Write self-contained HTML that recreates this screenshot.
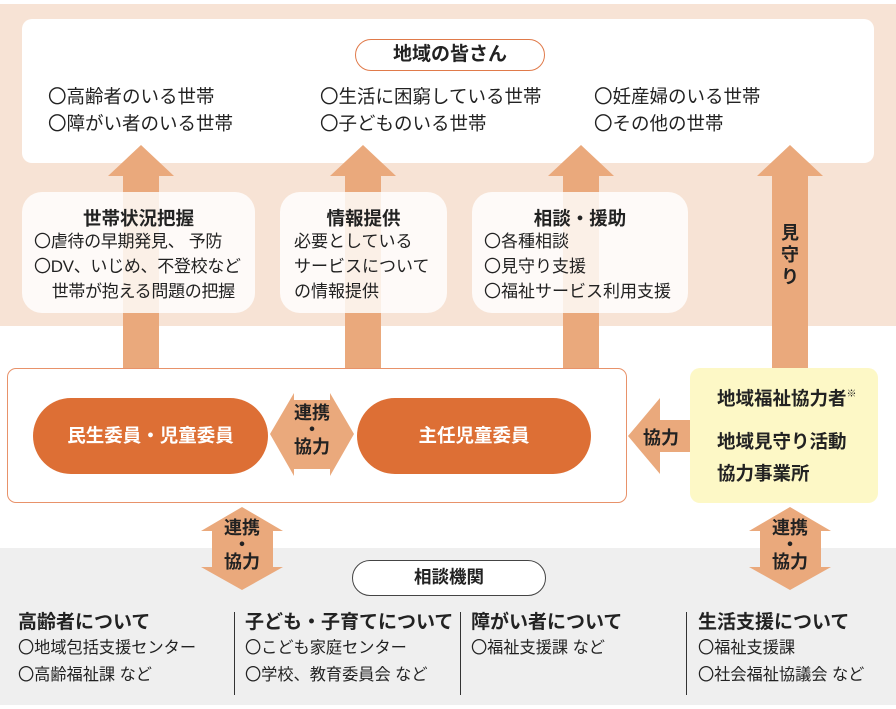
<!DOCTYPE html>
<html><head><meta charset="utf-8"><style>
*{margin:0;padding:0;box-sizing:border-box}
body{width:896px;height:709px;position:relative;background:#fff;font-family:"Liberation Sans","Noto Sans CJK JP",sans-serif;color:#222;overflow:hidden}
.a{position:absolute;white-space:nowrap}
.b{font-weight:bold}
</style></head><body>
<div class="a" style="left:0;top:4px;width:896px;height:322px;background:#f7e3d5"></div>
<div class="a" style="left:22px;top:19px;width:852px;height:144px;background:#fff;border-radius:10px"></div>
<div class="a" style="left:0;top:548px;width:896px;height:157px;background:#efefef"></div>
<svg class="a" style="left:0;top:0" width="896" height="709">
<g fill="#eaa97c">
<polygon points="141,145 174,176 159,176 159,368 123,368 123,176 108,176"/>
<polygon points="363,145 396,176 381,176 381,368 345,368 345,176 330,176"/>
<polygon points="581,145 614,176 599,176 599,368 563,368 563,176 548,176"/>
<polygon points="790,145 823,176 808,176 808,368 772,368 772,176 757,176"/>
<polygon points="628,436 660,398 660,420 690,420 690,452 660,452 660,474"/>
<polygon points="270,434 294,393 294,400 330,400 330,393 354,434 330,476 330,469 294,469 294,476"/>
<polygon points="242,507 283,531 273,531 273,567 283,567 242,590 201,567 212,567 212,531 201,531"/>
<polygon points="790,507 831,531 821,531 821,567 831,567 790,590 749,567 760,567 760,531 749,531"/>
</g>
</svg>
<div class="a" style="left:355px;top:39px;width:190px;height:32px;border:1.5px solid #e07a4a;border-radius:16px;background:#fff;text-align:center;font-size:19px;font-weight:bold;line-height:29px">地域の皆さん</div>
<div class="a" style="left:48px;top:83px;font-size:18.5px;line-height:27px">〇高齢者のいる世帯<br>〇障がい者のいる世帯</div>
<div class="a" style="left:320px;top:83px;font-size:18.5px;line-height:27px">〇生活に困窮している世帯<br>〇子どものいる世帯</div>
<div class="a" style="left:594px;top:83px;font-size:18.5px;line-height:27px">〇妊産婦のいる世帯<br>〇その他の世帯</div>

<div class="a" style="left:22px;top:192px;width:233px;height:121px;background:rgba(255,255,255,0.82);border-radius:20px"></div>
<div class="a" style="left:280px;top:192px;width:167px;height:121px;background:rgba(255,255,255,0.82);border-radius:20px"></div>
<div class="a" style="left:472px;top:192px;width:216px;height:121px;background:rgba(255,255,255,0.82);border-radius:20px"></div>
<div class="a b" style="left:22px;top:205px;width:233px;text-align:center;font-size:18.5px">世帯状況把握</div>
<div class="a" style="left:34px;top:229px;font-size:17px;line-height:25px;letter-spacing:-0.3px">〇虐待の早期発見、 予防<br>〇DV、いじめ、不登校など<br>&nbsp;&nbsp;&nbsp;&nbsp;世帯が抱える問題の把握</div>
<div class="a b" style="left:280px;top:205px;width:167px;text-align:center;font-size:18.5px">情報提供</div>
<div class="a" style="left:294px;top:229px;font-size:17px;line-height:25px">必要としている<br>サービスについて<br>の情報提供</div>
<div class="a b" style="left:472px;top:205px;width:216px;text-align:center;font-size:18.5px">相談・援助</div>
<div class="a" style="left:484px;top:229px;font-size:17px;line-height:25px">〇各種相談<br>〇見守り支援<br>〇福祉サービス利用支援</div>
<div class="a b" style="left:779px;top:222px;width:22px;font-size:18px;line-height:22px;white-space:normal;text-align:center">見守り</div>

<div class="a" style="left:7px;top:368px;width:620px;height:135px;border:1px solid #e8926a;border-radius:9px"></div>
<div class="a b" style="left:33px;top:398px;width:235px;height:76px;background:#dd6f35;border-radius:38px;color:#fff;text-align:center;line-height:76px;font-size:18.5px">民生委員・児童委員</div>
<div class="a b" style="left:357px;top:398px;width:234px;height:76px;background:#dd6f35;border-radius:38px;color:#fff;text-align:center;line-height:76px;font-size:18.5px">主任児童委員</div>
<div class="a b" style="left:284px;top:405px;width:56px;text-align:center;font-size:18px;line-height:17px">連携<br>・<br>協力</div>
<div class="a b" style="left:643px;top:424px;font-size:18px">協力</div>
<div class="a" style="left:690px;top:368px;width:188px;height:135px;background:#fdf8c6;border-radius:10px"></div>
<div class="a b" style="left:717px;top:385px;font-size:18.5px">地域福祉協力者<sup style="font-size:10px;vertical-align:top">※</sup></div>
<div class="a b" style="left:717px;top:426px;font-size:18.5px;line-height:32px">地域見守り活動<br>協力事業所</div>
<div class="a b" style="left:214px;top:520px;width:56px;text-align:center;font-size:18px;line-height:17px">連携<br>・<br>協力</div>
<div class="a b" style="left:762px;top:520px;width:56px;text-align:center;font-size:18px;line-height:17px">連携<br>・<br>協力</div>

<div class="a" style="left:352px;top:560px;width:194px;height:36px;border:1.5px solid #444;border-radius:18px;background:#fff;text-align:center;line-height:33px;font-size:17.5px;font-weight:bold">相談機関</div>
<div class="a" style="left:234px;top:612px;width:1px;height:83px;background:#333"></div>
<div class="a" style="left:460px;top:612px;width:1px;height:83px;background:#333"></div>
<div class="a" style="left:686px;top:612px;width:1px;height:83px;background:#333"></div>
<div class="a b" style="left:18px;top:607px;font-size:19px">高齢者について</div>
<div class="a" style="left:18px;top:635px;font-size:16.2px;line-height:27px">〇地域包括支援センター<br>〇高齢福祉課 など</div>
<div class="a b" style="left:245px;top:607px;font-size:19px">子ども・子育てについて</div>
<div class="a" style="left:245px;top:635px;font-size:16.2px;line-height:27px">〇こども家庭センター<br>〇学校、教育委員会 など</div>
<div class="a b" style="left:471px;top:607px;font-size:19px">障がい者について</div>
<div class="a" style="left:471px;top:635px;font-size:16.2px;line-height:27px">〇福祉支援課 など</div>
<div class="a b" style="left:698px;top:607px;font-size:19px">生活支援について</div>
<div class="a" style="left:698px;top:635px;font-size:16.2px;line-height:27px">〇福祉支援課<br>〇社会福祉協議会 など</div>
</body></html>
